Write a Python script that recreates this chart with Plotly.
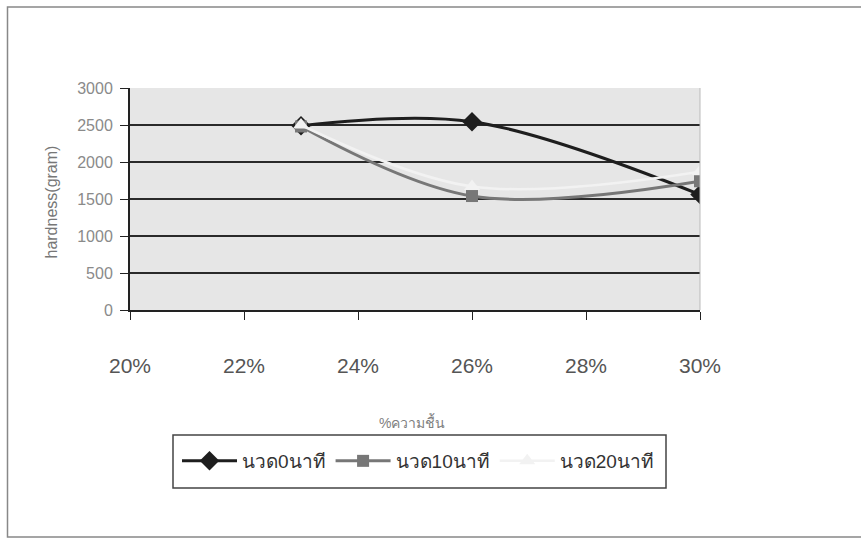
import plotly.graph_objects as go

# Moisture content (%) at which hardness was measured
moisture = [23, 26, 30]

# Hardness (gram) for each kneading time
knead_0 = [2490, 2545, 1560]
knead_10 = [2480, 1540, 1740]
knead_20 = [2500, 1670, 1870]

series_names = ["นวด0นาที", "นวด10นาที", "นวด20นาที"]
y_ticks = [0, 500, 1000, 1500, 2000, 2500, 3000]
x_ticks = [20, 22, 24, 26, 28, 30]
x_tick_labels = ["20%", "22%", "24%", "26%", "28%", "30%"]

W, H = 861, 542
L, R, T, B = 130, 700, 88, 310  # plot area in pixels

font_main = "Liberation Sans, Arial, Noto Sans, sans-serif"

styles = [
    dict(color="#1e1e1e", symbol="diamond", size=15, width=3),
    dict(color="#777777", symbol="square", size=12, width=3),
    dict(color="#f2f2f2", symbol="triangle-up", size=14, width=2.5),
]

fig = go.Figure()
for name, vals, st in zip(series_names, [knead_0, knead_10, knead_20], styles):
    fig.add_trace(go.Scatter(
        x=moisture, y=vals, name=name, mode="lines+markers",
        line=dict(color=st["color"], width=st["width"], shape="spline", smoothing=1),
        marker=dict(symbol=st["symbol"], size=st["size"], color=st["color"]),
    ))


def px_to_paper_x(px):
    return (px - L) / (R - L)


def px_to_paper_y(py):
    return (B - py) / (B - T)


fig.update_layout(
    width=W, height=H,
    margin=dict(l=L, r=W - R, t=T, b=H - B),
    paper_bgcolor="white",
    plot_bgcolor="#e6e6e6",
    showlegend=True,
    font=dict(family=font_main, color="#555555"),
    legend=dict(
        orientation="h",
        traceorder="normal",
        x=px_to_paper_x(418), xanchor="center",
        y=px_to_paper_y(461), yanchor="middle",
        borderwidth=0,
        bgcolor="rgba(0,0,0,0)",
        font=dict(size=19, color="#333333", family=font_main),
        itemwidth=55,
    ),
    xaxis=dict(
        range=[20, 30], tickvals=x_ticks, ticktext=x_tick_labels,
        showgrid=False, zeroline=False,
        showline=True, linecolor="#222222", linewidth=2,
        ticks="outside", ticklen=8, tickcolor="#222222", tickwidth=1,
        tickfont=dict(size=21, color="#555555"),
        ticklabelstandoff=28,
    ),
    yaxis=dict(
        range=[0, 3000], tickvals=y_ticks,
        showgrid=True, gridcolor="#2a2a2a", gridwidth=2,
        zeroline=False,
        showline=True, linecolor="#222222", linewidth=2,
        ticks="outside", ticklen=8, tickcolor="#222222",
        tickfont=dict(size=16, color="#8a8a8a"),
        ticklabelstandoff=4,
    ),
    annotations=[
        dict(text="hardness(gram)", xref="paper", yref="paper",
             x=px_to_paper_x(40), y=px_to_paper_y(202), textangle=-90,
             showarrow=False, font=dict(size=16, color="#777777")),
        dict(text="%ความชื้น", xref="paper", yref="paper",
             x=px_to_paper_x(412), y=px_to_paper_y(433),
             showarrow=False, font=dict(size=14, color="#808080")),
    ],
    shapes=[
        # outer chart frame (open on the right)
        dict(type="path", xref="paper", yref="paper",
             path=f"M {px_to_paper_x(900)},{px_to_paper_y(7)} L {px_to_paper_x(7.5)},{px_to_paper_y(7)} "
                  f"L {px_to_paper_x(7.5)},{px_to_paper_y(537)} L {px_to_paper_x(900)},{px_to_paper_y(537)}",
             line=dict(color="#888888", width=1.5)),
        # legend box
        dict(type="rect", xref="paper", yref="paper",
             x0=px_to_paper_x(173), x1=px_to_paper_x(666),
             y0=px_to_paper_y(435), y1=px_to_paper_y(488),
             line=dict(color="#444444", width=1.5), fillcolor="rgba(0,0,0,0)"),
        # right edge of plot area
        dict(type="line", xref="paper", yref="paper",
             x0=1, x1=1, y0=0, y1=1, line=dict(color="#bbbbbb", width=1)),
    ],
)

fig.write_html("out.html")
